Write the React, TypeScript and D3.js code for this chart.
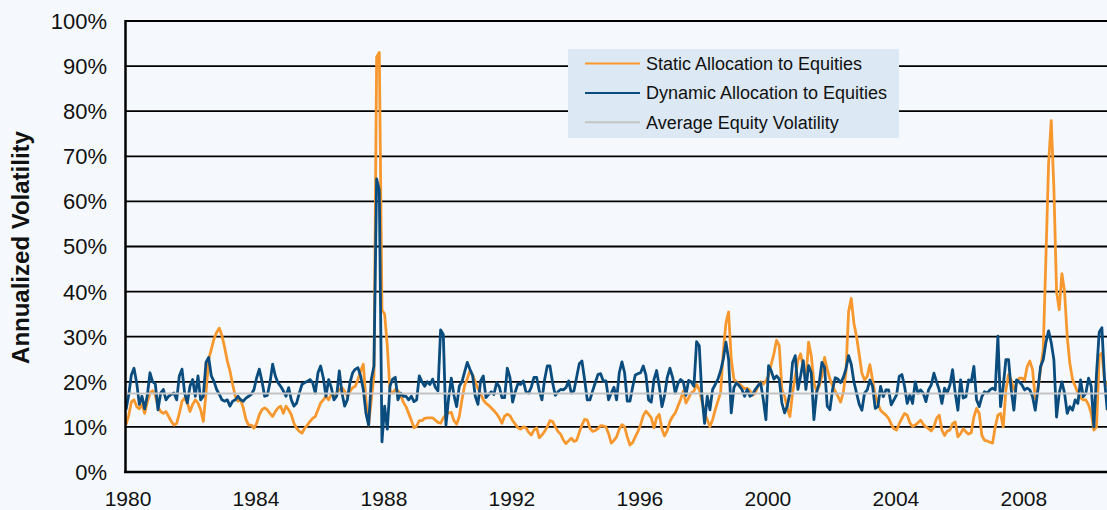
import React, { useEffect, useRef } from 'react';
import * as d3 from 'd3';

// monthly annualized volatility (%), Jan 1980 onwards
const staticVol1980s = [
  10.5, 12.5, 15.5, 16, 14.5, 14, 15, 13, 15.5, 17.5, 18, 17,
  14.5, 13.4, 13, 13.4, 12.3, 11.2, 10.4, 10.8, 13, 15.7, 16.4, 15.3,
  13.4, 15, 16, 15.3, 13.8, 11.2, 17.5, 25, 27.2, 29.5, 31, 31.9,
  30.2, 27.6, 24.6, 22.4, 19.4, 16.8, 15.7, 16, 14.2, 11.6, 10.4, 10.4,
  9.7, 10.8, 12.7, 13.8, 14.2, 13.8, 13, 12.3, 13.4, 14.2, 14.6, 13,
  14.6, 13.8, 12.7, 10.8, 9.7, 9, 8.6, 9.7, 10.4, 11.2, 11.9, 12.3,
  13.8, 15.3, 16, 16.8, 16, 17.2, 16.8, 17.5, 18.3, 18.7, 17.9, 16.8,
  17.9, 18.7, 19, 20.5, 22.4, 23.9, 16, 10.4, 16, 21.3, 92, 93,
  36, 35, 28, 18, 17.5, 18.3, 18, 17, 15.5, 14.5, 13, 11.5,
  9.8, 10.2, 11.4, 11.4, 11.9, 12, 12, 12, 11.5, 11, 10.8, 12,
];
const staticVol1990s = [
  12.7, 13.1, 13.2, 11.4, 10.6, 12.3, 16, 19.2, 20.7, 22.4, 21.5, 20,
  18.5, 17.4, 16, 15.2, 14.8, 14.2, 13.6, 12.9, 12, 10.8, 12.4, 12.8,
  12.5, 11.4, 10.6, 9.8, 9.5, 10, 9.8, 8.8, 8.2, 9.3, 9.8, 7.6,
  8.2, 9, 10, 11.4, 11.2, 10, 9, 8.4, 7.1, 6.3, 6.9, 7.5,
  6.8, 7, 8.8, 10.4, 11.7, 11.5, 9.7, 9, 9.2, 9.6, 10.3, 10.2,
  10, 8.5, 6.4, 7, 7.8, 9.5, 10.5, 10, 7.8, 6, 6.5, 7.8,
  9, 10.5, 12.5, 13.5, 12.8, 12, 9.8, 12, 12.8, 9.5, 8, 9.2,
  11.2, 12.3, 13.1, 14.6, 16.1, 17.9, 15.3, 16.4, 17.6, 17.9, 19.4, 18.3,
  15.7, 13.1, 11.6, 10.1, 11.6, 13.8, 15.7, 17.6, 26.6, 33, 35.5, 25,
  20.5, 20, 19.5, 19, 18.5, 18.6, 18, 17, 17.5, 19, 20, 19.5,
];
const staticVol2000s = [
  20.2, 21.3, 23.9, 26.2, 29.2, 28, 18.3, 16.8, 14.2, 12.3, 17.6, 21.3,
  24.7, 26.2, 23.2, 20.6, 28.8, 25.8, 19.8, 17.9, 19.1, 21.3, 25.4, 22.8,
  20.6, 19.1, 17.9, 16.8, 15.5, 17.6, 22, 35.5, 38.5, 33, 30, 26,
  21.9, 20.4, 21.2, 23.8, 20.4, 17.1, 15.2, 13.7, 13.1, 12.6, 11.9, 10.6,
  9.6, 9.3, 10.7, 11.9, 13, 12.6, 10.9, 10.1, 10.4, 10.9, 11.5, 10.6,
  10, 9.6, 9.1, 10, 11.9, 12.6, 9.3, 8.1, 9.1, 9.3, 10.7, 11.1,
  7.8, 8.5, 9.6, 8.9, 8.4, 8.7, 12.2, 14.1, 13, 8.1, 7, 6.9,
  6.6, 6.4, 10, 12.6, 13, 10, 18.2, 21.6, 20.4, 18.2, 19.7, 20.8,
  20.8, 20.4, 23.4, 24.6, 22.7, 16.3, 18.2, 22.7, 27.2, 47.3, 68.2, 77.9,
  63, 40, 36, 44, 40, 30, 24, 20.5, 19, 17.5, 16.5, 16,
  16, 14.9, 13, 9.3, 10, 25.7, 26.4, 20.4, 19,
];

const dynamicVol1980s = [
  13.8, 17, 21.5, 23, 19.8, 15, 16.8, 14, 17, 22, 20, 19.5,
  13.8, 17.5, 18.3, 16, 16.8, 17.2, 17.5, 16, 21.3, 22.8, 17.5, 15.3,
  19, 20.5, 16.8, 21.3, 16, 16.8, 24.3, 25.4, 21.3, 20.1, 18.3, 17.2,
  16, 15.7, 16, 14.6, 15.7, 16, 16.8, 16, 15.7, 16.4, 16.8, 17.2,
  18.3, 20.9, 22.8, 20.1, 16.8, 17, 19.8, 23.9, 21.3, 19.8, 19, 18,
  16.8, 18.7, 16, 14.6, 15.3, 17.5, 19.4, 19.8, 20.1, 20.5, 19.8, 17.5,
  22, 23.5, 20.9, 16.8, 20.5, 18.7, 16, 16.8, 22.4, 17.5, 14.6, 16,
  19.8, 22, 22.8, 23.1, 21.3, 18.3, 13, 10.4, 20.5, 23.5, 65, 62.5,
  6.7, 14.6, 9.5, 19, 20.6, 21, 16, 17.5, 16.8, 16.8, 16, 16.8,
  15.6, 16, 21.3, 20, 19, 20, 19.4, 20.6, 18.8, 18, 31.5, 30.5,
];
const dynamicVol1990s = [
  10.4, 16.4, 20.8, 17, 14.5, 19, 20, 22.2, 24.3, 22.8, 21.4, 16.8,
  15, 20.2, 21.3, 16.5, 17.2, 17.8, 17.2, 19.8, 18.9, 16.5, 16.5, 23,
  21, 15.5, 17.8, 19.6, 19.4, 20.2, 17.8, 17.5, 18.8, 21, 21, 18,
  16, 20.5, 23.5, 23.5, 19.8, 17, 17.8, 18.3, 18.2, 18.7, 20.2, 17.5,
  18, 21, 24, 24.6, 20.5, 16, 16, 18, 19.8, 21.6, 21.8, 20.2,
  20.2, 16, 17.5, 18.8, 16, 22, 24.4, 22, 15.7, 15.7, 18.8, 21.5,
  21.8, 22, 23.5, 21.5, 16, 15.5, 20.5, 22.5, 19, 14.5, 17, 21,
  23, 21, 17.5, 19.6, 20.5, 20, 17, 20.3, 20, 19, 28.9, 28,
  16.8, 10.8, 16.8, 13.8, 18.3, 19.4, 20.6, 22.4, 25, 28.8, 25, 13.1,
  18.7, 19.8, 19.1, 18.3, 16.8, 18.3, 16.8, 17.2, 18.3, 19.1, 19.8, 16.1,
];
const dynamicVol2000s = [
  11.6, 23.6, 22.4, 20.6, 21.3, 20.6, 15.3, 13.1, 14.6, 17.6, 24.3, 25.8,
  18.3, 21.3, 24.7, 18.3, 23.6, 22, 11.6, 17.6, 19.8, 24.3, 23.2, 14.6,
  13.8, 18.3, 20.9, 20.6, 19.8, 20.9, 22.8, 25.8, 23.9, 20, 17.5, 15,
  13.7, 17.5, 18.2, 20.4, 19, 14.1, 14.5, 19, 16.7, 18.2, 18.2, 14.9,
  16, 17.1, 21.2, 21.6, 19, 15.2, 17.1, 15.2, 20, 17.5, 18.2, 17.5,
  15.6, 18.2, 19.3, 21.9, 20, 18.2, 15.2, 18.6, 17.5, 19.3, 22.7, 17.5,
  13.7, 20.4, 16.4, 16.7, 20.4, 20, 23.4, 16, 14.5, 16.7, 17.8, 17.5,
  18.2, 18.6, 18.2, 30.1, 14.5, 19, 24.9, 24.9, 18.2, 13.7, 20.4, 20,
  19.3, 18.2, 18.6, 18.2, 16.7, 13.7, 18.2, 23.4, 24.9, 28.7, 31.3, 28.7,
  24.9, 12.2, 17.5, 20, 17.5, 13, 14.5, 13.7, 16, 15.2, 20.4, 16.7,
  17.5, 20.8, 19, 10, 21.9, 31, 32, 20.4, 13.7,
];

const averageEquityVol = 17.4;
const startYear = 1980;
const yearTicks = [1980, 1984, 1988, 1992, 1996, 2000, 2004, 2008];
const pctTicks = [0, 10, 20, 30, 40, 50, 60, 70, 80, 90, 100];

const seriesNames = ['Static Allocation to Equities', 'Dynamic Allocation to Equities', 'Average Equity Volatility'];
const seriesColors = ['#F7982F', '#0A4C7E', '#C4C4C4'];

const W = 1107;
const H = 510;
const FONT = "'Liberation Sans', Arial, sans-serif";

export default function App() {
  const svgRef = useRef<SVGSVGElement>(null);

  useEffect(() => {
    if (!svgRef.current) return;
    const svg = d3.select(svgRef.current);
    svg.selectAll('*').remove();

    const staticVol = [...staticVol1980s, ...staticVol1990s, ...staticVol2000s];
    const dynamicVol = [...dynamicVol1980s, ...dynamicVol1990s, ...dynamicVol2000s];
    const toPoints = (arr: number[]) => arr.map((v, i) => ({ t: startYear + i / 12, v }));
    const staticPts = toPoints(staticVol);
    const dynamicPts = toPoints(dynamicVol);
    const lastT = startYear + (staticVol.length - 1) / 12;
    const avgPts = [{ t: startYear, v: averageEquityVol }, { t: lastT, v: averageEquityVol }];

    const x = d3.scaleLinear().domain([1980, 2010.66]).range([126, W]);
    const y = d3.scaleLinear().domain([0, 100]).range([472, 21]);

    svg.append('rect').attr('width', W).attr('height', H).attr('fill', '#F5F9FD');

    // gridlines
    svg.append('g')
      .selectAll('line')
      .data(pctTicks.filter(d => d > 0))
      .join('line')
      .attr('x1', 126).attr('x2', W)
      .attr('y1', d => y(d)).attr('y2', d => y(d))
      .attr('stroke', '#000').attr('stroke-width', 1.8);

    // y labels
    svg.append('g')
      .selectAll('text')
      .data(pctTicks)
      .join('text')
      .attr('x', 107)
      .attr('y', d => y(d))
      .attr('dy', '0.36em')
      .attr('text-anchor', 'end')
      .style('font-family', FONT)
      .style('font-size', '22px')
      .style('fill', '#111')
      .text(d => `${d}%`);

    // x labels
    svg.append('g')
      .selectAll('text')
      .data(yearTicks)
      .join('text')
      .attr('x', d => x(d) + 2)
      .attr('y', 506)
      .attr('text-anchor', 'middle')
      .style('font-family', FONT)
      .style('font-size', '21px')
      .style('fill', '#111')
      .text(d => d);

    // axis title
    svg.append('text')
      .attr('transform', `translate(29,${(21 + 472) / 2 + 1}) rotate(-90)`)
      .attr('text-anchor', 'middle')
      .style('font-family', FONT)
      .style('font-size', '24px')
      .style('font-weight', 'bold')
      .style('fill', '#111')
      .text('Annualized Volatility');

    const line = d3.line<{ t: number; v: number }>()
      .x(d => x(d.t))
      .y(d => y(d.v));

    const clip = svg.append('clipPath').attr('id', 'plot-clip');
    clip.append('rect').attr('x', 126).attr('y', 0).attr('width', W - 126).attr('height', 472);

    const plot = svg.append('g').attr('clip-path', 'url(#plot-clip)');
    [staticPts, dynamicPts, avgPts].forEach((pts, i) => {
      plot.append('path')
        .datum(pts)
        .attr('d', line)
        .attr('fill', 'none')
        .attr('stroke', seriesColors[i])
        .attr('stroke-width', i === 2 ? 2 : 2.8)
        .attr('stroke-linejoin', 'round');
    });

    // axes
    svg.append('line')
      .attr('x1', 125.5).attr('x2', 125.5).attr('y1', 20).attr('y2', 473)
      .attr('stroke', '#000').attr('stroke-width', 2.5);
    svg.append('line')
      .attr('x1', 124).attr('x2', W).attr('y1', 472).attr('y2', 472)
      .attr('stroke', '#000').attr('stroke-width', 2.5);

    // legend
    const legend = svg.append('g').attr('transform', 'translate(568,49)');
    legend.append('rect').attr('width', 331).attr('height', 89).attr('fill', '#DCE8F3');
    seriesNames.forEach((name, i) => {
      const ly = 14.5 + i * 29.4;
      legend.append('line')
        .attr('x1', 17).attr('x2', 72).attr('y1', ly).attr('y2', ly)
        .attr('stroke', seriesColors[i]).attr('stroke-width', 2);
      legend.append('text')
        .attr('x', 78).attr('y', ly).attr('dy', '0.36em')
        .style('font-family', FONT)
        .style('font-size', '18px')
        .style('fill', '#111')
        .text(name);
    });
  }, []);

  return (
    <div style={{ position: 'fixed', left: 0, top: 0 }}>
      <svg ref={svgRef} width={W} height={H} style={{ display: 'block' }} />
    </div>
  );
}
